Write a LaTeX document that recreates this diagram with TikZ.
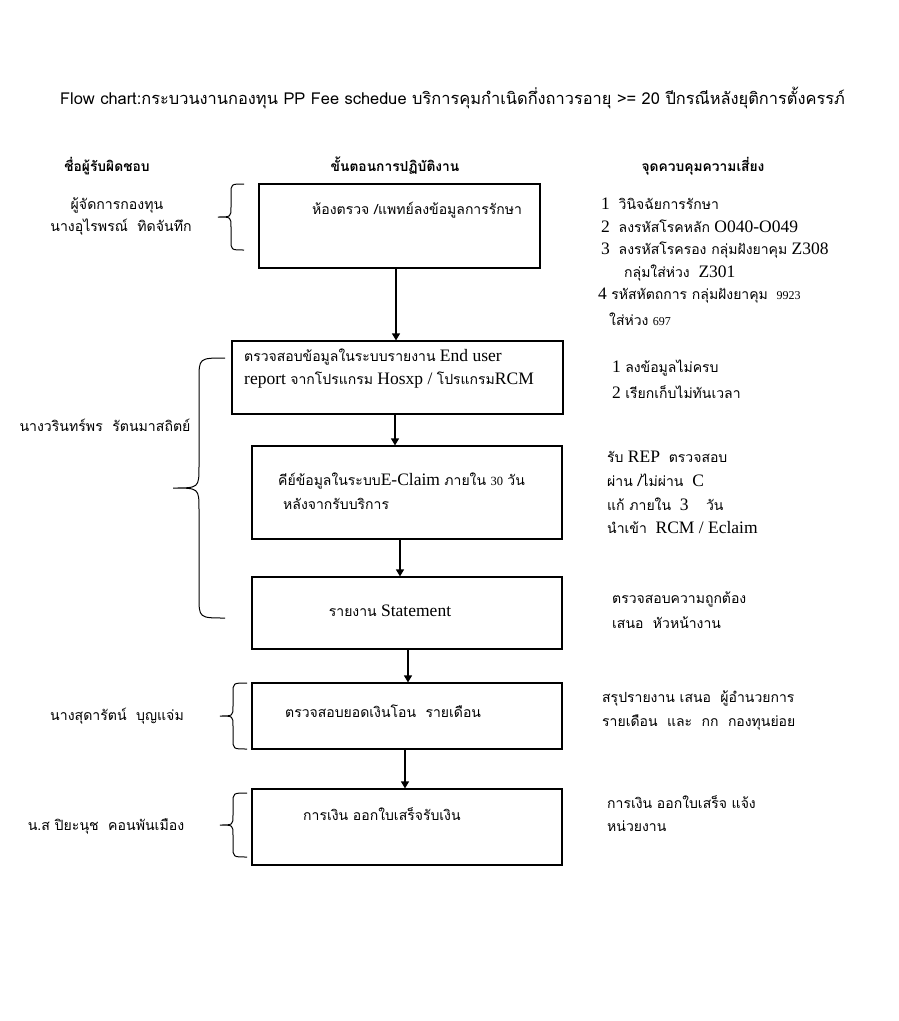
\documentclass[tikz,border=0pt]{standalone}
\usepackage{fontspec}
\setmainfont{Liberation Serif}
\newfontfamily\thai[Script=Thai,Scale=0.8]{Loma}
\newfontfamily\thaiS[Script=Thai]{Loma}
\usetikzlibrary{arrows.meta}
\newcommand\tht[1]{{\thai #1}}
\newcommand\fbody{\fontsize{17.5}{19}\selectfont}
\newcommand\ftitle{\thaiS\fontsize{16.4}{18}\selectfont}
\newcommand\fhdr{\thaiS\bfseries\fontsize{13.8}{15}\selectfont}
\newcommand\fname{\thaiS\fontsize{14.1}{16}\selectfont}
\newcommand\fsmall{\fontsize{12}{13}\selectfont}
\newcommand\fmid{\fontsize{12.5}{13}\selectfont}
\tikzset{
  stepbox/.style={draw,line width=1.2pt,inner sep=0pt},
  arr/.style={line width=1.2pt,-{Triangle[length=7pt,width=8pt]}},
  bracestyle/.style={line width=1pt},
  txt/.style={inner sep=0pt,anchor=west,font=\fbody},
  ctxt/.style={inner sep=0pt,anchor=center,font=\fbody},
  titletxt/.style={inner sep=0pt,anchor=west,font=\ftitle},
  hdr/.style={inner sep=0pt,anchor=center,font=\fhdr},
  nametxt/.style={inner sep=0pt,anchor=center,font=\fname}}
\newcommand\mybrace[6]{%
  \pgfmathsetmacro\ym{(#4+#5)/2}%
  \draw[bracestyle] (#1,#4) .. controls (#2,#4) .. (#2,#4+#6) -- (#2,\ym-#6)
    .. controls (#2,\ym) .. (#3,\ym) .. controls (#2,\ym) .. (#2,\ym+#6)
    -- (#2,#5-#6) .. controls (#2,#5) .. (#1,#5);}
\begin{document}
\begin{tikzpicture}[x=1pt,y=-1pt]
\useasboundingbox (0,0) rectangle (898,1021);
\fill[white] (0,0) rectangle (898,1021);
\node[titletxt] (ttl) at (60,98) {Flow chart:กระบวนงานกองทุน PP Fee schedue บริการคุมกำเนิดกึ่งถาวรอายุ >= 20 ปีกรณีหลังยุติการตั้งครรภ์};
\node[hdr] (h1) at (107,166) {ชื่อผู้รับผิดชอบ};
\node[hdr] (h2) at (395,166) {ขั้นตอนการปฏิบัติงาน};
\node[hdr] (h3) at (703,166) {จุดควบคุมความเสี่ยง};
\node[stepbox,minimum width=281pt,minimum height=84pt] (b1) at (399.5,226) {};
\node[stepbox,minimum width=331pt,minimum height=73pt] (b2) at (397.5,377.5) {};
\node[stepbox,minimum width=310pt,minimum height=93pt] (b3) at (407,492.5) {};
\node[stepbox,minimum width=310pt,minimum height=72pt] (b4) at (407,613) {};
\node[stepbox,minimum width=310pt,minimum height=66pt] (b5) at (407,716) {};
\node[stepbox,minimum width=310pt,minimum height=76pt] (b6) at (407,827) {};
\coordinate (x1) at (396,0);
\coordinate (x2) at (395,0);
\coordinate (x3) at (400,0);
\coordinate (x4) at (408,0);
\coordinate (x5) at (405,0);
\draw[arr] (x1 |- b1.south) -- (x1 |- b2.north);
\draw[arr] (x2 |- b2.south) -- (x2 |- b3.north);
\draw[arr] (x3 |- b3.south) -- (x3 |- b4.north);
\draw[arr] (x4 |- b4.south) -- (x4 |- b5.north);
\draw[arr] (x5 |- b5.south) -- (x5 |- b6.north);
\node[txt] (t1) at (312,210) {\tht{ห้องตรวจ /แพทย์ลงข้อมูลการรักษา}};
\node[txt] (t2a) at (244,357) {\tht{ตรวจสอบข้อมูลในระบบรายงาน} End user};
\node[txt] (t2b) at (244,380) {report \tht{จากโปรแกรม} Hosxp / \tht{โปรแกรม}RCM};
\node[txt] (t3a) at (278,481) {\tht{คีย์ข้อมูลในระบบ}E-Claim \tht{ภายใน} {\fmid 30} \tht{วัน}};
\node[txt] (t3b) at (283,504) {\tht{หลังจากรับบริการ}};
\node[ctxt] (t4) at (390,611) {\tht{รายงาน} Statement};
\node[txt] (t5) at (285,711) {\tht{ตรวจสอบยอดเงินโอน\ \ รายเดือน}};
\node[txt] (t6) at (303,814) {\tht{การเงิน ออกใบเสร็จรับเงิน}};
\node[nametxt] (n1a) at (117,205) {ผู้จัดการกองทุน};
\node[nametxt] (n1b) at (121,227) {นางอุไรพรณ์\ \ ทิดจันทึก};
\node[nametxt] (n2) at (105,425) {นางวรินทร์พร\ \ รัตนมาสถิตย์};
\node[nametxt] (n3) at (117,716) {นางสุดารัตน์\ \ บุญแจ่ม};
\node[nametxt] (n4) at (106,826) {น.ส ปิยะนุช\ \ คอนพันเมือง};
\mybrace{244}{231}{218}{184}{250}{10}
\mybrace{225}{199}{173}{358}{618}{22}
\mybrace{247}{233}{220}{683}{749}{10}
\mybrace{247}{233}{220}{793}{857}{10}
\node[txt] (r1a) at (601,204) {1\ \ \tht{วินิจฉัยการรักษา}};
\node[txt] (r1b) at (601,226) {2\ \ \tht{ลงรหัสโรคหลัก} O040-O049};
\node[txt] (r1c) at (601,250) {3\ \ \tht{ลงรหัสโรครอง กลุ่มฝังยาคุม} Z308};
\node[txt] (r1d) at (624,273) {\tht{กลุ่มใส่ห่วง}\ \ Z301};
\node[txt] (r1e) at (598,296) {4 \tht{รหัสหัตถการ กลุ่มฝังยาคุม}\ \ {\fsmall 9923}};
\node[txt] (r1f) at (609,319) {\tht{ใส่ห่วง} {\fsmall 697}};
\node[txt] (r2a) at (612,368) {1 \tht{ลงข้อมูลไม่ครบ}};
\node[txt] (r2b) at (612,392) {2 \tht{เรียกเก็บไม่ทันเวลา}};
\node[txt] (r3a) at (607,457) {\tht{รับ} REP\ \ \tht{ตรวจสอบ}};
\node[txt] (r3b) at (607,480) {\tht{ผ่าน /ไม่ผ่าน}\ \ C};
\node[txt] (r3c) at (607,504) {\tht{แก้ ภายใน}\ \ 3\ \ \ \ \tht{วัน}};
\node[txt] (r3d) at (607,528) {\tht{นำเข้า}\ \ RCM / Eclaim};
\node[txt] (r4a) at (612,599) {\tht{ตรวจสอบความถูกต้อง}};
\node[txt] (r4b) at (612,623) {\tht{เสนอ\ \ หัวหน้างาน}};
\node[txt] (r5a) at (602,698) {\tht{สรุปรายงาน เสนอ\ \ ผู้อำนวยการ}};
\node[txt] (r5b) at (602,722) {\tht{รายเดือน\ \ และ\ \ กก\ \ กองทุนย่อย}};
\node[txt] (r6a) at (607,802) {\tht{การเงิน ออกใบเสร็จ แจ้ง}};
\node[txt] (r6b) at (607,826) {\tht{หน่วยงาน}};
\end{tikzpicture}
\end{document}
